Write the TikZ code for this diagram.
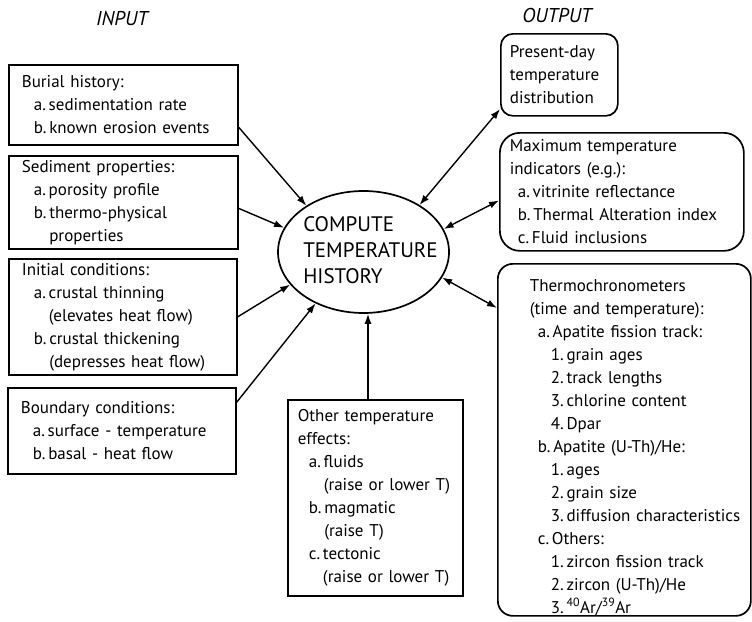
\documentclass[tikz,border=0pt]{standalone}
\usepackage{fontspec}
\setmainfont{PT Sans}
\usepackage{tikz}
\usetikzlibrary{arrows.meta,shapes.geometric}

\newcommand{\row}[2]{\mbox{\hspace*{#1}#2}}

\begin{document}
\begin{tikzpicture}[
    x=1pt, y=-1pt,
    inbox/.style={draw, line width=1.7pt, anchor=north west, align=left, inner xsep=13pt, inner ysep=0pt, font=\fontsize{17}{23}\selectfont},
    outbox/.style={inbox, inner xsep=10pt},
    hdr/.style={font=\fontsize{20}{22}\selectfont\itshape},
    conn/.style={line width=1.4pt, -{Latex[length=10pt,width=7pt]}},
    twoway/.style={line width=1.4pt, {Latex[length=10pt,width=7pt]}-{Latex[length=10pt,width=7pt]}}
]
\useasboundingbox (0,0) rectangle (752,621);

\node[hdr] (inp) at (122,18) {INPUT};
\node[hdr] (outp) at (557,16) {OUTPUT};

% input side
\node[inbox, text width=203pt, minimum height=80pt] (burial) at (8,64)
    {Burial history:\\ \row{12pt}{a.\,sedimentation rate}\\ \row{12pt}{b.\,known erosion events}};
\node[inbox, text width=203pt, minimum height=93pt] (sediment) at (8,155)
    {Sediment properties:\\ \row{12pt}{a.\,porosity profile}\\ \row{12pt}{b.\,thermo-physical}\\ \row{12pt}{\phantom{b.\,}properties}};
\node[inbox, text width=202pt, minimum height=116pt] (initial) at (8,258)
    {Initial conditions:\\ \row{12pt}{a.\,crustal thinning}\\ \row{12pt}{\phantom{a.\,}(elevates heat flow)}\\
     \row{12pt}{b.\,crustal thickening}\\ \row{12pt}{\phantom{b.\,}(depresses heat flow)}};
\node[inbox, text width=202pt, minimum height=86pt] (boundary) at (7,387)
    {Boundary conditions:\\ \row{12pt}{a.\,surface - temperature}\\ \row{12pt}{b.\,basal - heat flow}};
\node[inbox, inner xsep=10pt, text width=155pt, minimum height=196pt] (other) at (287,399)
    {Other temperature\\ effects:\\ \row{11pt}{a.\,fluids}\\ \row{11pt}{\phantom{a.\,}(raise or lower T)}\\
     \row{11pt}{b.\,magmatic}\\ \row{11pt}{\phantom{b.\,}(raise T)}\\ \row{11pt}{c.\,tectonic}\\ \row{11pt}{\phantom{c.\,}(raise or lower T)}};

\node[ellipse, draw, line width=1.7pt, minimum width=171pt, minimum height=122pt, inner sep=0pt,
      font=\fontsize{21}{26}\selectfont] (comp) at (363.5,252)
    {\makebox[0pt]{\hspace*{14pt}\begin{tabular}{@{}l@{}}COMPUTE\\ TEMPERATURE\\ HISTORY\end{tabular}}};

% output side
\node[outbox, rounded corners=12pt, inner xsep=9pt, text width=99pt, minimum height=82pt] (present) at (500,33)
    {Present-day\\ temperature\\ distribution};
\node[outbox, rounded corners=20pt, text width=224pt, minimum height=118pt] (maxtemp) at (499,132)
    {Maximum temperature\\ indicators (e.g.):\\ \row{8pt}{a.\,vitrinite reflectance}\\
     \row{8pt}{b.\,Thermal Alteration index}\\ \row{8pt}{c.\,Fluid inclusions}};
\node[outbox, rounded corners=15pt, text width=233pt, minimum height=352pt] (thermo) at (497,263)
    {\rule{0pt}{27pt}\row{22pt}{Thermochronometers}\\ \row{22pt}{(time and temperature):}\\
     \row{30pt}{a.\,Apatite fission track:}\\ \row{43pt}{1.\,grain ages}\\ \row{43pt}{2.\,track lengths}\\
     \row{43pt}{3.\,chlorine content}\\ \row{43pt}{4.\,Dpar}\\
     \row{30pt}{b.\,Apatite (U-Th)/He:}\\ \row{43pt}{1.\,ages}\\ \row{43pt}{2.\,grain size}\\
     \row{43pt}{3.\,diffusion characteristics}\\
     \row{30pt}{c.\,Others:}\\ \row{43pt}{1.\,zircon fission track}\\ \row{43pt}{2.\,zircon (U-Th)/He}\\
     \row{43pt}{3.\,\textsuperscript{40}Ar/\textsuperscript{39}Ar}};

% connectors
\draw[conn] (burial.-11) -- (comp.141);
\draw[conn] (sediment.-3) -- (comp.163.6);
\draw[conn] (initial.east) -- (comp.-156.4);
\draw[conn] (boundary.14.7) -- (comp.-133);
\draw[conn] ([xshift=4.5pt]comp.south |- other.north) -- ([xshift=4.5pt]comp.south);
\draw[twoway] (comp.40) -- (present.-150);
\draw[twoway] (comp.16.7) -- (maxtemp.-176);
\draw[twoway] (comp.-18) -- (thermo.134);

\end{tikzpicture}
\end{document}
